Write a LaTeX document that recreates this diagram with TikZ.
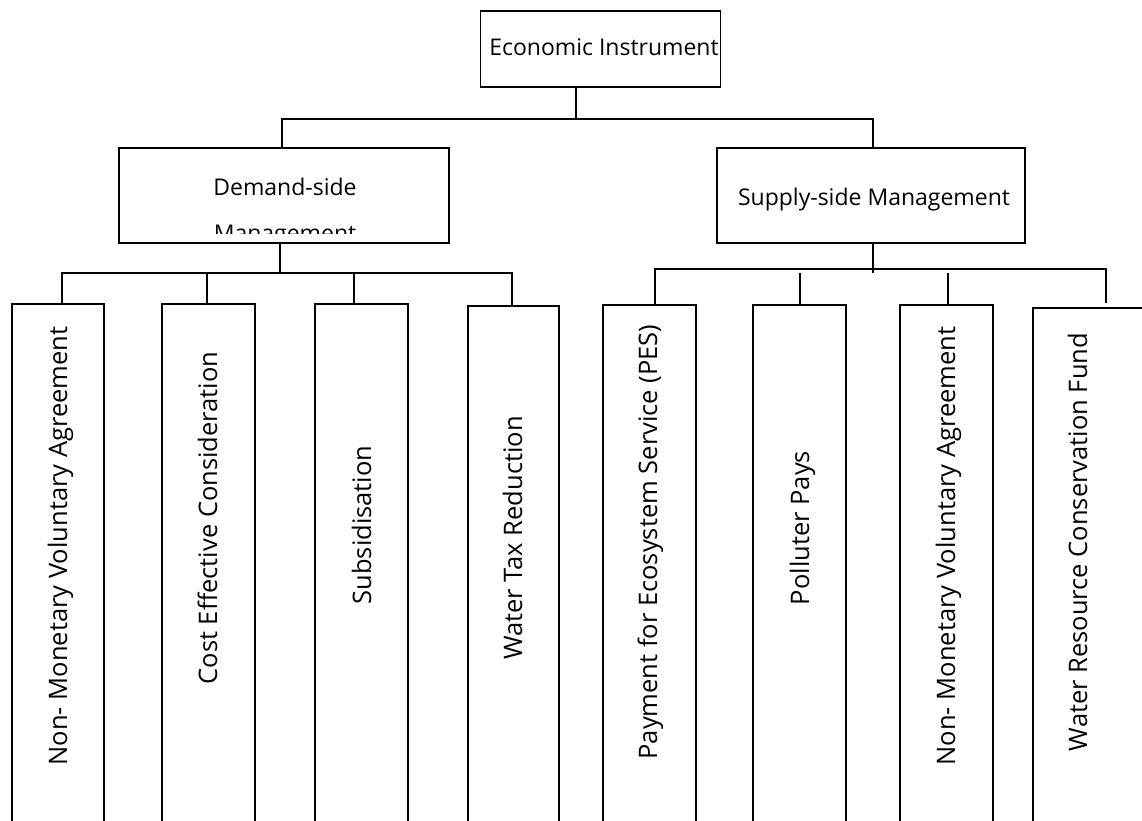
\documentclass[tikz,border=0pt]{standalone}
\usepackage{fontspec}
\setmainfont{Open Sans}
\usetikzlibrary{positioning}

\tikzset{
  box/.style={draw, line width=1.5pt, rectangle, inner sep=0pt},
  link/.style={line width=1.5pt},
  leaf/.style={box, minimum width=93pt, minimum height=560pt, anchor=north},
  vlabel/.style={rotate=90, anchor=base, inner sep=0pt, font=\fontsize{25.5}{30}\selectfont}
}

\begin{document}
\begin{tikzpicture}[x=1pt,y=-1pt,font=\fontsize{23}{27}\selectfont]
            \useasboundingbox (0,0) rectangle (1142,820);
            \clip (0,0) rectangle (1142,820);
            % Top level
            \node[box, minimum width=240pt, minimum height=76pt] (eco) at (600.5,49) {};
            \node[anchor=base] (ecotext) at (604,55) {Economic Instrument};
            % Second level
            \node[box, minimum width=330pt, minimum height=95pt] (dem) at (284,195.5) {};
            \node[anchor=base] (demtext) at (285,195) {Demand-side};
            \begin{scope}
              \clip (119,148) rectangle (449,233);
              \node[anchor=base] (demtextb) at (285,241) {Management};
            \end{scope}
            \node[box, minimum width=308pt, minimum height=95pt] (sup) at (871,195.5) {};
            \node[anchor=base] (suptext) at (874,205) {Supply-side Management};
            % Demand-side leaves
            \node[leaf, minimum width=92pt] (nmva) at (58,303) {};
            \node[leaf] (cost) at (208.5,303) {};
            \node[leaf] (subs) at (361.5,303) {};
            \node[leaf, minimum width=91pt] (wtax) at (513.5,305) {};
            % Supply-side leaves
            \node[leaf] (pes) at (649.5,304) {};
            \node[leaf] (poll) at (799.5,304) {};
            \node[leaf] (nmvb) at (946.5,304) {};
            \node[leaf, minimum width=147pt] (wrcf) at (1106.5,307) {};
            % Leaf labels
            \node[vlabel] (nmvalabel) at (67,546) {Non- Monetary Voluntary Agreement};
            \node[vlabel] (costlabel) at (217,518) {Cost Effective Consideration};
            \node[vlabel] (subslabel) at (371,525) {Subsidisation};
            \node[vlabel] (wtaxlabel) at (522,538) {Water Tax Reduction};
            \node[vlabel] (peslabel) at (657,542) {Payment for Ecosystem Service (PES)};
            \node[vlabel] (polllabel) at (809,528) {Polluter Pays};
            \node[vlabel] (nmvblabel) at (955,546) {Non- Monetary Voluntary Agreement};
            \node[vlabel] (wrcflabel) at (1087,542) {Water Resource Conservation Fund};
            % Top bus
            \coordinate (tbus) at (576,119);
            \coordinate (dbus) at (0,273);
            \draw[link] ([xshift=-24.5pt]eco.south) -- (tbus);
            \draw[link] ([xshift=-2pt]dem.north) |- ([xshift=2pt]sup.north |- tbus) -- ([xshift=2pt]sup.north);
            % Demand-side bus
            \draw[link] ([xshift=-4pt]dem.south) -- ([xshift=-4pt]dem.south |- dbus);
            \draw[link] ([xshift=4pt]nmva.north) |- ([xshift=-1.5pt]wtax.north |- dbus) -- ([xshift=-1.5pt]wtax.north);
            \draw[link] ([xshift=-1.5pt]cost.north) -- ([xshift=-1.5pt]cost.north |- dbus);
            \draw[link] ([xshift=-7.5pt]subs.north) -- ([xshift=-7.5pt]subs.north |- dbus);
            % Supply-side bus
            \draw[link] ([xshift=2pt]sup.south) -- ([xshift=2pt]sup.south |- dbus);
            \draw[link] ([xshift=5.5pt]pes.north) |- ([xshift=-0.5pt,yshift=4pt]wrcf.north |- dbus) -- ([xshift=-0.5pt,yshift=4pt]wrcf.north);
            \draw[link] ([xshift=0.5pt]poll.north) -- ([xshift=0.5pt]poll.north |- dbus);
            \draw[link] ([xshift=1.5pt]nmvb.north) -- ([xshift=1.5pt]nmvb.north |- dbus);
        \end{tikzpicture}
\end{document}
